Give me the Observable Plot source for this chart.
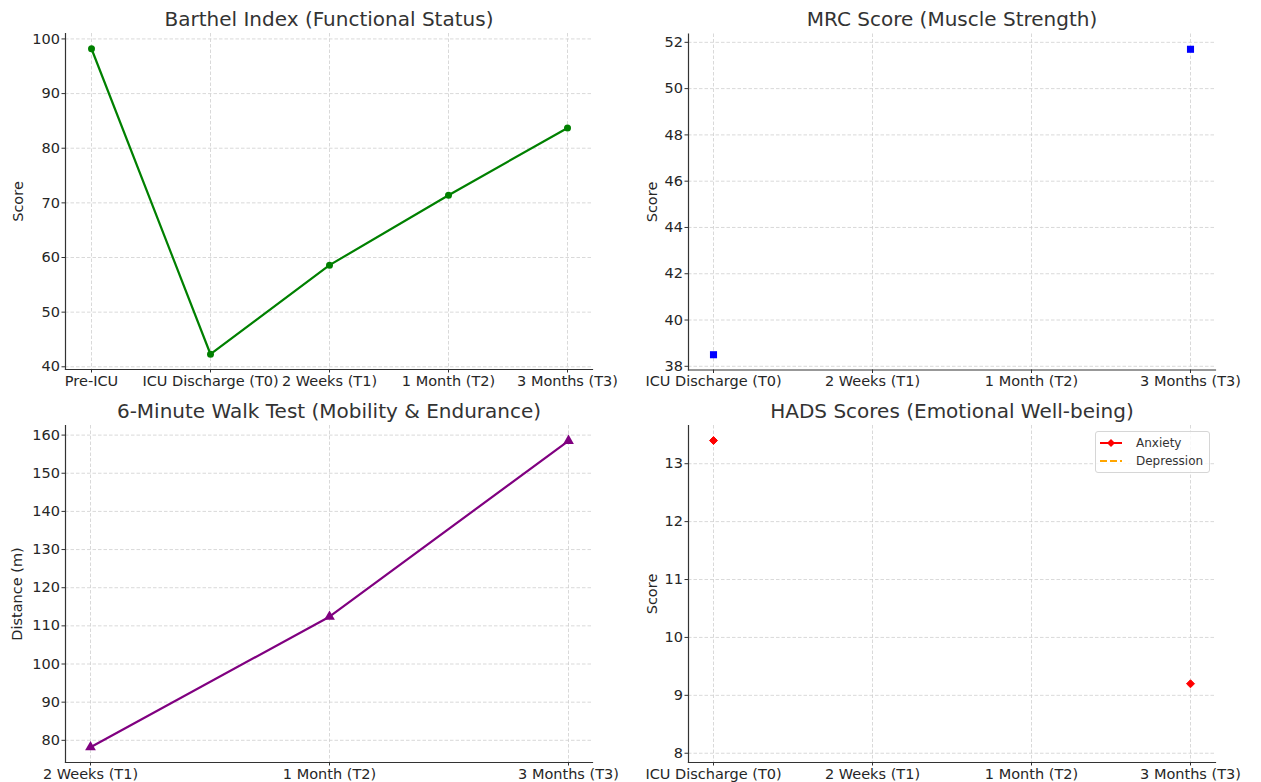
<!DOCTYPE html>
<html>
<head>
<meta charset="utf-8">
<script src="https://cdn.jsdelivr.net/npm/d3@7"></script>
<script src="https://cdn.jsdelivr.net/npm/@observablehq/plot@0.6"></script>
<style>
  html, body { margin: 0; padding: 0; background: #fff; }
  #root { position: relative; width: 1261px; height: 782px; font-family: "DejaVu Sans", sans-serif; }
  .panel { position: absolute; }
  .legend { position: absolute; left: 1095px; top: 431px; width: 113px; height: 40px; border: 1px solid #d6d6d6; border-radius: 3px; background: rgba(255,255,255,0.8); font-family: "DejaVu Sans", sans-serif; font-size: 12px; color: #333; }
  .legend .row { position: absolute; left: 4px; height: 16px; display: flex; align-items: center; }
  .legend svg { margin-right: 12px; }
</style>
</head>
<body>
<div id="root"></div>
<script>
// ---- data ----
const bartelCats = ["Pre-ICU", "ICU Discharge (T0)", "2 Weeks (T1)", "1 Month (T2)", "3 Months (T3)"];
const bartelVals = [98.2, 42.3, 58.6, 71.4, 83.7];

const mrcCats = ["ICU Discharge (T0)", "2 Weeks (T1)", "1 Month (T2)", "3 Months (T3)"];
const mrcVals = [38.5, null, null, 51.7];

const walkCats = ["2 Weeks (T1)", "1 Month (T2)", "3 Months (T3)"];
const walkVals = [78.2, 112.4, 158.5];

const hadsCats = ["ICU Discharge (T0)", "2 Weeks (T1)", "1 Month (T2)", "3 Months (T3)"];
const anxietyVals = [13.4, null, null, 9.2];
const depressionVals = [null, null, null, null];
const hadsDomain = [7.84, 13.66];

const bartelTicks = [40, 50, 60, 70, 80, 90, 100];
const mrcTicks = [38, 40, 42, 44, 46, 48, 50, 52];
const walkTicks = [80, 90, 100, 110, 120, 130, 140, 150, 160];
const hadsTicks = [8, 9, 10, 11, 12, 13];

// ---- helpers ----
const FONT = "DejaVu Sans, sans-serif";
const TXT = "#262626";
function padDomain(vals) {
  const [lo, hi] = d3.extent(vals.filter(v => v != null));
  const m = (hi - lo) * 0.05;
  return [lo - m, hi + m];
}
function panel({cats, yDomain, yTicks, title, ylabel, width, height, margins, ylabelDx, marks}) {
  const n = cats.length;
  return Plot.plot({
    width, height,
    marginLeft: margins[0], marginRight: margins[1], marginTop: margins[2], marginBottom: margins[3],
    style: {fontFamily: FONT, color: TXT, background: "white", overflow: "visible"},
    x: {type: "point", domain: cats, padding: 0.05 * (n - 1), align: 0.5},
    y: {domain: yDomain},
    marks: [
      Plot.gridX(cats, {stroke: "#cfcfcf", strokeOpacity: 1, strokeWidth: 0.8, strokeDasharray: "3.5,2"}),
      Plot.gridY(yTicks, {stroke: "#cfcfcf", strokeOpacity: 1, strokeWidth: 0.8, strokeDasharray: "3.5,2"}),
      Plot.axisX(cats, {tickSize: 3.5, tickPadding: 2.5, fontSize: 14.5, label: null, stroke: "#333", fill: TXT}),
      Plot.axisY(yTicks, {tickSize: 3.5, tickPadding: 2, fontSize: 14.5, label: null, stroke: "#333", fill: TXT, tickFormat: d3.format("d")}),
      Plot.frame({anchor: "left", stroke: "#333", strokeWidth: 1.2}),
      Plot.frame({anchor: "bottom", stroke: "#333", strokeWidth: 1.2}),
      Plot.text([title], {frameAnchor: "top", dy: -14, fontSize: 20, fill: "#333", lineAnchor: "middle"}),
      Plot.text([ylabel], {frameAnchor: "left", dx: ylabelDx, rotate: -90, fontSize: 14.5, fill: TXT, lineAnchor: "middle", textAnchor: "middle"}),
      ...marks
    ]
  });
}
function place(el, left, top) {
  el.classList.add("panel");
  el.style.left = left + "px";
  el.style.top = top + "px";
  document.getElementById("root").appendChild(el);
}

// ---- panel 1: Barthel ----
const bRows = bartelCats.map((c, i) => ({c, v: bartelVals[i]}));
place(panel({
  cats: bartelCats, yDomain: padDomain(bartelVals), yTicks: bartelTicks,
  title: "Barthel Index (Functional Status)", ylabel: "Score",
  width: 630, height: 395, margins: [65, 38, 33, 26], ylabelDx: -47,
  marks: [
    Plot.line(bRows, {x: "c", y: "v", stroke: "#008000", strokeWidth: 2.2}),
    Plot.dot(bRows, {x: "c", y: "v", r: 3.5, fill: "#008000", stroke: "none"})
  ]
}), 0, 0);

// ---- panel 2: MRC ----
const mRows = mrcCats.map((c, i) => ({c, v: mrcVals[i]})).filter(d => d.v != null);
place(panel({
  cats: mrcCats, yDomain: padDomain(mrcVals), yTicks: mrcTicks,
  title: "MRC Score (Muscle Strength)", ylabel: "Score",
  width: 631, height: 395, margins: [58, 46, 33.5, 25.5], ylabelDx: -36,
  marks: [
    Plot.dot(mRows, {x: "c", y: "v", symbol: "square", r: 4, fill: "#0000ff", stroke: "none"})
  ]
}), 630, 0);

// ---- panel 3: 6MWT ----
const wRows = walkCats.map((c, i) => ({c, v: walkVals[i]}));
place(panel({
  cats: walkCats, yDomain: padDomain(walkVals), yTicks: walkTicks,
  title: "6-Minute Walk Test (Mobility & Endurance)", ylabel: "Distance (m)",
  width: 630, height: 387, margins: [65, 38, 30, 20], ylabelDx: -48,
  marks: [
    Plot.line(wRows, {x: "c", y: "v", stroke: "#800080", strokeWidth: 2.2}),
    Plot.dot(wRows, {x: "c", y: "v", symbol: "triangle", r: 4, fill: "#800080", stroke: "none"})
  ]
}), 0, 395);

// ---- panel 4: HADS ----
const aRows = hadsCats.map((c, i) => ({c, v: anxietyVals[i]})).filter(d => d.v != null);
const dRows = hadsCats.map((c, i) => ({c, v: depressionVals[i]})).filter(d => d.v != null);
place(panel({
  cats: hadsCats, yDomain: hadsDomain, yTicks: hadsTicks,
  title: "HADS Scores (Emotional Well-being)", ylabel: "Score",
  width: 631, height: 387, margins: [58, 46, 30, 20], ylabelDx: -36,
  marks: [
    Plot.line(dRows, {x: "c", y: "v", stroke: "#ffa500", strokeWidth: 2, strokeDasharray: "6,3"}),
    Plot.dot(aRows, {x: "c", y: "v", symbol: "diamond2", r: 3.6, fill: "#ff0000", stroke: "#ff0000", strokeWidth: 1})
  ]
}), 630, 395);

// ---- legend ----
const legend = document.createElement("div");
legend.className = "legend";
legend.innerHTML = `
  <div class="row" style="top:3px"><svg width="24" height="10"><line x1="0" y1="5" x2="22" y2="5" stroke="#ff0000" stroke-width="2"/><path d="M11,1 L15,5 L11,9 L7,5 Z" fill="#ff0000"/></svg><span>Anxiety</span></div>
  <div class="row" style="top:21px"><svg width="24" height="10"><line x1="0" y1="5" x2="22" y2="5" stroke="#ffa500" stroke-width="2" stroke-dasharray="7,3"/></svg><span>Depression</span></div>`;
document.getElementById("root").appendChild(legend);
</script>
</body>
</html>
